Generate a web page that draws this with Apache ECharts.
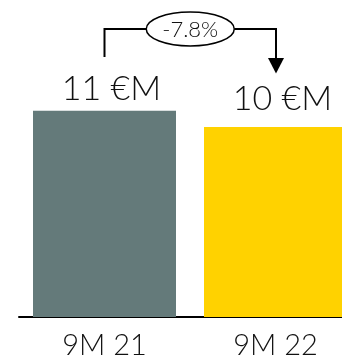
<!DOCTYPE html>
<html>
<head>
<meta charset="utf-8">
<script src="https://cdn.jsdelivr.net/npm/echarts@6/dist/echarts.min.js"></script>
<style>
html,body{margin:0;padding:0;background:#fff;}
#c{width:342px;height:360px;}
</style>
</head>
<body>
<div id="c"></div>
<script>
var categories = ['9M 21', '9M 22'];
var values = [11.0, 10.14];
var valueLabels = ['11 €M', '10 €M'];
var changeLabel = '-7.8%';
var barColors = ['#647a7a', '#ffd200'];

var FONT = 'Lato, "Liberation Sans", sans-serif';
var labelDistances = [5, 11];

var chart = echarts.init(document.getElementById('c'), null, {renderer: 'canvas'});
var option = {
  animation: false,
  grid: {left: 19, right: -19, top: 17, bottom: 43, containLabel: false, outerBoundsMode: 'none'},
  xAxis: {
    type: 'category',
    data: categories,
    axisLine: {show: true, lineStyle: {color: '#000', width: 2}},
    axisTick: {show: false},
    axisLabel: {color: '#111', fontSize: 29, fontFamily: FONT, fontWeight: 300, margin: 14}
  },
  yAxis: {type: 'value', min: 0, max: 16, show: false, splitLine: {show: false}},
  series: [{
    type: 'bar',
    barWidth: 143,
    data: values.map(function (v, i) {
      return {
        value: v,
        itemStyle: {color: barColors[i]},
        label: {
          show: true, position: 'top', distance: labelDistances[i], offset: [7, 0],
          formatter: valueLabels[i], fontSize: 34, fontFamily: FONT, fontWeight: 300, color: '#111'
        }
      };
    })
  }]
};
chart.setOption(option);

var p1 = chart.convertToPixel({seriesIndex: 0}, [0, values[0]]);
var p2 = chart.convertToPixel({seriesIndex: 0}, [1, values[1]]);
var x1 = p1[0], x2 = p2[0] + 0.5;
var lineY = 29;
var midX = (x1 + x2) / 2;
var rx = 44, ry = 17;
chart.setOption({
  graphic: [
    {type: 'polyline', shape: {points: [[x1, 57], [x1, lineY], [midX - rx, lineY]]}, style: {stroke: '#000', lineWidth: 2, fill: null}},
    {type: 'polyline', shape: {points: [[midX + rx, lineY], [x2, lineY], [x2, 60]]}, style: {stroke: '#000', lineWidth: 2, fill: null}},
    {type: 'polygon', shape: {points: [[x2 - 8, 58], [x2 + 8, 58], [x2, 73.5]]}, style: {fill: '#000'}},
    {type: 'ellipse', shape: {cx: midX, cy: lineY, rx: rx, ry: ry}, style: {stroke: '#000', lineWidth: 1.5, fill: '#fff'}},
    {type: 'text', x: midX, y: lineY + 1, style: {text: changeLabel, fontSize: 22, fontFamily: FONT, fontWeight: 300, fill: '#111', align: 'center', verticalAlign: 'middle'}}
  ]
});
</script>
</body>
</html>
